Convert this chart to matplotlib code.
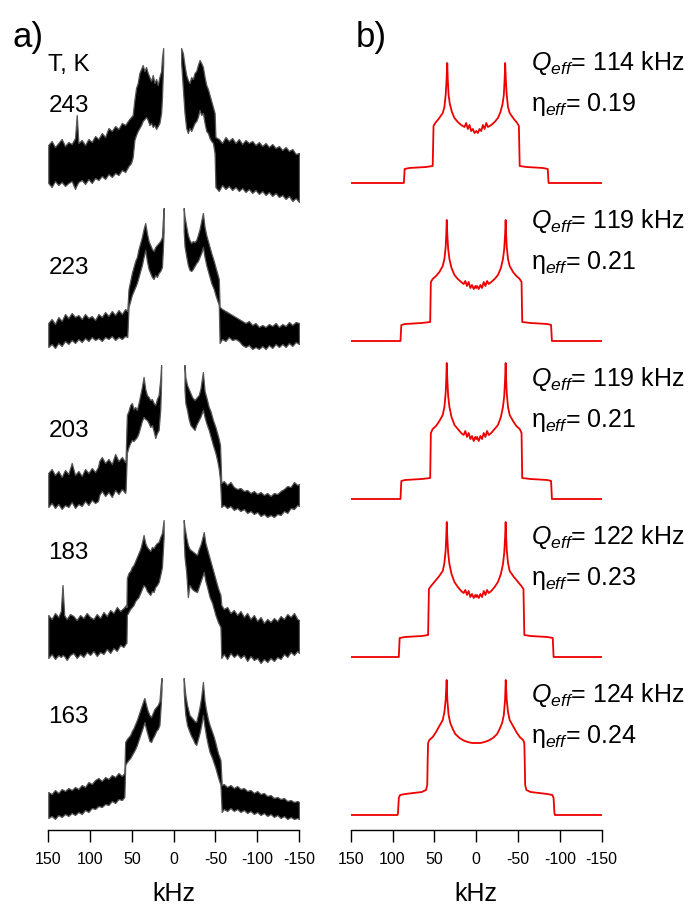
import numpy as np
import matplotlib
matplotlib.use('Agg')
import matplotlib.pyplot as plt

plt.rcParams['font.family'] = ['Liberation Sans', 'DejaVu Sans']
plt.rcParams['mathtext.fontset'] = 'custom'
plt.rcParams['mathtext.rm'] = 'Liberation Sans'
plt.rcParams['mathtext.it'] = 'Liberation Sans:italic'
plt.rcParams['axes.unicode_minus'] = False

# 温度 (K)
temps = ['243', '223', '203', '183', '163']
ticks = [150, 100, 50, 0, -50, -100, -150]
tick_labels = ['150', '100', '50', '0', '-50', '-100', '-150']

# 实验谱: 噪声带 (kHz, 下包络, 上包络)，中心窄峰超出显示范围，分左右两段
exp_left = [
    # 243 K
    [(150, 0, 38), (146, -4, 42), (142, 2, 36), (138, -2, 40), (134, 1, 44), (130, -3, 37),
     (126, 0, 41), (122, 2, 39), (118, -6, 45), (116, -2, 68), (114, 1, 40), (110, 3, 43),
     (106, -1, 38), (102, 4, 44), (98, 0, 41), (94, 5, 47), (90, 3, 44), (86, 7, 50),
     (82, 4, 46), (78, 9, 55), (74, 6, 52), (70, 10, 57), (66, 8, 54), (62, 13, 60),
     (58, 11, 58), (54, 17, 63), (51, 20, 66), (49, 26, 68), (47, 43, 83), (45, 48, 95),
     (43, 52, 100), (41, 55, 110), (39, 58, 114), (37, 62, 118), (35, 64, 112), (33, 66, 116),
     (31, 63, 110), (29, 58, 106), (27, 60, 102), (25, 56, 108), (23, 58, 100), (21, 54, 104),
     (19, 57, 98), (17, 60, 106), (15, 70, 112), (14, 85, 125), (12.5, 120, 135)],
    # 223 K
    [(150, -6, 18), (146, -3, 22), (142, -7, 17), (138, -2, 24), (134, -5, 20), (130, 0, 27),
     (126, -3, 23), (122, 1, 28), (118, -2, 24), (114, 2, 26), (110, -1, 22), (106, 3, 27),
     (102, 0, 23), (98, 4, 25), (94, 1, 21), (90, 3, 27), (86, 0, 24), (82, 4, 29),
     (78, 2, 25), (74, 5, 30), (70, 1, 26), (66, 4, 31), (62, 2, 27), (58, 5, 32),
     (55.5, 4, 30), (54, 34, 52), (52, 40, 60), (50, 46, 68), (48, 50, 74), (46, 54, 80),
     (44, 58, 84), (42, 64, 92), (40, 70, 98), (38, 76, 104), (36, 84, 112), (34, 91, 118),
     (32, 80, 108), (30, 72, 100), (28, 68, 96), (26, 64, 92), (24, 62, 90), (22, 66, 94),
     (20, 64, 96), (18, 68, 98), (16, 70, 100), (14, 74, 104), (13, 90, 120), (12, 110, 133)],
    # 203 K
    [(150, -8, 26), (146, -4, 30), (142, -9, 24), (138, -5, 28), (134, -10, 22), (130, -6, 29),
     (126, -8, 25), (122, -3, 36), (118, -9, 24), (114, -5, 28), (110, -7, 23), (106, -2, 30),
     (102, -6, 26), (98, -1, 31), (94, -4, 27), (90.5, -2, 32), (89, 4, 38), (86, 8, 42),
     (82, 3, 36), (78, 7, 40), (74, 2, 35), (70, 9, 45), (66, 5, 38), (62, 10, 42),
     (58, 6, 37), (57.5, 9, 40), (56, 46, 84), (54, 52, 88), (52, 56, 94), (50, 59, 96),
     (48, 58, 90), (46, 60, 92), (44, 62, 89), (42, 66, 96), (40, 72, 104), (38, 78, 112),
     (36, 82, 122), (34, 80, 110), (32, 79, 104), (30, 76, 102), (28, 72, 99), (26, 74, 100),
     (24, 68, 96), (22, 61, 94), (20, 66, 100), (18, 69, 104), (16, 90, 120), (15, 119, 134)],
    # 183 K
    [(150, -1, 42), (146, 3, 38), (142, -2, 44), (138, 2, 40), (135, 0, 46), (133, 2, 72),
     (131, 1, 42), (128, -3, 38), (124, 2, 43), (120, 4, 41), (116, -1, 37), (112, 3, 42),
     (108, 0, 39), (104, 5, 44), (100, 2, 40), (96, 6, 38), (92, 1, 43), (88, 5, 39),
     (84, 3, 45), (80, 8, 41), (76, 4, 47), (72, 9, 44), (68, 6, 50), (64, 12, 46),
     (60, 10, 49), (57, 14, 52), (56.5, 14, 50), (56, 42, 79), (54, 45, 84), (52, 48, 86),
     (50, 50, 90), (48, 52, 92), (46, 56, 96), (44, 58, 100), (42, 60, 104), (40, 64, 108),
     (38, 68, 114), (36, 72, 122), (34, 70, 114), (32, 66, 110), (30, 64, 108), (28, 62, 106),
     (26, 66, 110), (24, 65, 109), (22, 70, 112), (20, 72, 114), (18, 75, 115), (16, 82, 120),
     (14, 90, 124), (12, 120, 137)],
    # 163 K
    [(150, -3, 23), (146, -1, 21), (142, -4, 25), (138, 0, 22), (134, -2, 26), (130, 1, 24),
     (126, -1, 27), (122, 2, 25), (118, 0, 28), (114, 3, 26), (110, 1, 30), (106, 5, 28),
     (102, 3, 33), (98, 7, 31), (94, 6, 35), (90, 9, 37), (86, 8, 34), (82, 11, 38),
     (78, 10, 36), (74, 14, 40), (70, 12, 38), (66, 16, 42), (62, 15, 39), (59, 18, 42),
     (58, 50, 73), (56, 53, 76), (54, 55, 78), (52, 57, 80), (50, 60, 84), (48, 63, 87),
     (46, 66, 91), (44, 70, 95), (42, 75, 100), (40, 80, 105), (38, 85, 110), (36, 90, 115),
     (35, 93, 117), (33, 86, 110), (31, 80, 104), (29, 74, 100), (27, 73, 98), (25, 77, 102),
     (23, 80, 106), (21, 84, 108), (19, 86, 110), (17, 90, 114), (15.5, 110, 130), (14.5, 125, 137)],
]
exp_right = [
    # 243 K
    [(-9, 120, 135), (-11, 95, 130), (-13, 70, 118), (-15, 55, 108), (-17, 50, 103), (-19, 55, 100),
     (-21, 52, 106), (-23, 56, 104), (-25, 60, 110), (-27, 62, 112), (-29, 66, 118), (-31, 73, 123),
     (-33, 68, 120), (-35, 70, 116), (-37, 60, 106), (-39, 52, 98), (-41, 50, 94), (-43, 45, 88),
     (-45, 42, 82), (-47, 40, 76), (-49, 30, 70), (-50, -4, 46), (-54, -8, 44), (-58, -2, 40),
     (-62, -6, 46), (-66, -3, 42), (-70, -7, 45), (-74, -4, 40), (-78, -8, 44), (-82, -5, 39),
     (-86, -9, 43), (-90, -6, 40), (-94, -10, 42), (-98, -7, 38), (-102, -11, 41), (-106, -8, 37),
     (-110, -12, 40), (-114, -9, 36), (-118, -13, 39), (-122, -10, 35), (-126, -14, 37), (-130, -12, 33),
     (-134, -16, 36), (-138, -13, 32), (-142, -18, 34), (-146, -15, 29), (-150, -19, 30)],
    # 223 K
    [(-12, 110, 133), (-13, 95, 125), (-15, 85, 115), (-17, 76, 106), (-19, 71, 101), (-21, 70, 98),
     (-23, 72, 100), (-25, 75, 99), (-27, 78, 101), (-29, 80, 106), (-31, 84, 112), (-33, 88, 120),
     (-35, 94, 128), (-37, 84, 114), (-39, 76, 106), (-41, 70, 100), (-43, 64, 94), (-45, 58, 88),
     (-48, 52, 80), (-50, 46, 74), (-52, 41, 68), (-54, 36, 62), (-55, -2, 34), (-58, 2, 32),
     (-62, 0, 30), (-66, 4, 28), (-70, 1, 26), (-74, 2, 24), (-78, 0, 22), (-82, -4, 20),
     (-86, -6, 18), (-90, -4, 20), (-94, -8, 16), (-98, -6, 18), (-102, -8, 14), (-106, -5, 16),
     (-110, -8, 14), (-114, -4, 17), (-118, -7, 15), (-122, -3, 18), (-126, -6, 14), (-130, -3, 17),
     (-134, -6, 15), (-138, -2, 19), (-142, -5, 16), (-146, -1, 19), (-150, -3, 18)],
    # 203 K
    [(-13, 109, 134), (-14, 96, 122), (-16, 89, 114), (-18, 80, 110), (-20, 74, 106), (-22, 72, 102),
     (-25, 69, 99), (-27, 74, 101), (-30, 79, 104), (-32, 82, 110), (-35, 89, 127), (-37, 82, 108),
     (-39, 76, 102), (-42, 69, 92), (-44, 63, 88), (-47, 54, 79), (-50, 46, 72), (-52, 39, 66),
     (-54, 30, 60), (-55.5, 19, 54), (-57, -8, 16), (-60, -6, 18), (-64, -9, 14), (-68, -7, 17),
     (-72, -11, 12), (-76, -9, 10), (-80, -12, 11), (-84, -10, 8), (-88, -14, 9), (-92, -12, 6),
     (-96, -15, 8), (-100, -13, 5), (-104, -17, 7), (-108, -15, 4), (-112, -18, 6), (-116, -16, 3),
     (-120, -18, 6), (-124, -15, 5), (-128, -16, 8), (-132, -12, 10), (-136, -14, 13), (-140, -9, 12),
     (-144, -10, 17), (-148, -6, 14), (-150, -7, 15)],
    # 183 K
    [(-12, 120, 137), (-13, 100, 130), (-15, 85, 120), (-17, 60, 112), (-19, 72, 108), (-22, 68, 106),
     (-25, 66, 104), (-28, 65, 102), (-30, 70, 108), (-32, 75, 112), (-34, 80, 118), (-36, 85, 125),
     (-38, 76, 114), (-40, 70, 108), (-43, 60, 99), (-46, 54, 90), (-48, 48, 84), (-50, 42, 78),
     (-53, 35, 69), (-56, 30, 62), (-57, -1, 52), (-60, 3, 48), (-64, -2, 50), (-68, 4, 44),
     (-72, 0, 47), (-76, 3, 42), (-80, -1, 46), (-84, 2, 40), (-88, -4, 44), (-92, 1, 38),
     (-96, -3, 42), (-100, -1, 36), (-104, -6, 40), (-108, -2, 34), (-112, -5, 38), (-116, -1, 35),
     (-120, -4, 39), (-124, 0, 36), (-128, -2, 41), (-132, 3, 38), (-136, 0, 43), (-140, 5, 40),
     (-144, 2, 44), (-148, 6, 38), (-150, 4, 37)],
    # 163 K
    [(-12, 125, 137), (-13, 110, 128), (-14, 100, 120), (-16, 90, 110), (-19, 83, 100), (-21, 79, 98),
     (-23, 76, 96), (-25, 72, 94), (-27, 70, 93), (-29, 76, 100), (-31, 82, 108), (-33, 90, 118),
     (-35, 100, 133), (-37, 88, 114), (-39, 78, 104), (-41, 70, 96), (-43, 63, 90), (-46, 57, 83),
     (-48, 52, 78), (-50, 47, 72), (-53, 38, 62), (-56, 30, 55), (-57.5, 3, 30), (-60, 6, 31),
     (-64, 4, 28), (-68, 7, 30), (-72, 4, 27), (-76, 6, 29), (-80, 3, 26), (-84, 5, 27),
     (-88, 2, 24), (-92, 4, 25), (-96, 1, 22), (-100, 3, 24), (-104, 0, 21), (-108, 2, 22),
     (-112, -1, 19), (-116, 1, 20), (-120, -2, 17), (-124, 0, 18), (-128, -3, 16), (-132, -1, 17),
     (-136, -4, 14), (-140, -2, 15), (-144, -4, 13), (-148, -3, 14), (-150, -4, 13)],
]

# 模拟谱 (kHz, 强度)
sim_x = [
    [150, 86.5, 85.5, 80, 70, 60, 52, 51, 49, 45, 40, 38, 36.5, 35.5, 34.6, 34, 33, 31.5, 29, 26, 22, 18,
     14, 12, 10, 8, 6, 4, 2, 0, -2, -4, -6, -8, -10, -12, -14,
     -18, -22, -26, -29, -31.5, -33, -34, -34.6, -35.5, -36.5, -38, -40, -45, -49, -51, -52, -60, -70, -80, -85.5, -86.5, -150],
    [150, 90.5, 89.5, 85, 75, 65, 55, 54.2, 52, 48, 44, 40, 38, 36.5, 35.8, 35.2, 34.5, 33.5, 32, 29.5, 26, 22, 18,
     15, 13, 11, 9, 7, 5, 3, 1, 0, -1, -3, -5, -7, -9, -11, -13, -15,
     -18, -22, -26, -29.5, -32, -33.5, -34.5, -35.2, -35.8, -36.5, -38, -40, -44, -48, -52, -54.2, -55, -65, -75, -85, -89.5, -90.5, -150],
    [150, 90.5, 89.5, 85, 75, 65, 55, 54.2, 52, 48, 44, 40, 38, 36.5, 35.8, 35.2, 34.5, 33.5, 32, 29.5, 26, 22, 18,
     15, 13, 11, 9, 7, 5, 3, 1, 0, -1, -3, -5, -7, -9, -11, -13, -15,
     -18, -22, -26, -29.5, -32, -33.5, -34.5, -35.2, -35.8, -36.5, -38, -40, -44, -48, -52, -54.2, -55, -65, -75, -85, -89.5, -90.5, -150],
    [150, 92.5, 91.5, 85, 75, 65, 57.5, 56.5, 54, 50, 45, 40, 38, 36.5, 35.8, 35.2, 34.5, 33.5, 32, 29.5, 26, 22, 18,
     15, 13, 11, 9, 7, 5, 3, 1, 0, -1, -3, -5, -7, -9, -11, -13, -15,
     -18, -22, -26, -29.5, -32, -33.5, -34.5, -35.2, -35.8, -36.5, -38, -40, -45, -50, -54, -56.5, -57.5, -65, -75, -85, -91.5, -92.5, -150],
    [150, 94, 93.5, 92.5, 91, 85, 75, 65, 60, 58.5, 58, 57.5, 56, 52, 48, 44, 40, 38, 36.5, 35.3, 34.5, 33, 31, 28, 25, 20, 15, 10, 5,
     0, -5, -10, -15, -20, -25, -28, -31, -33, -34.5, -35.3, -36.5, -38, -40, -44, -48, -52, -56, -57.5, -58, -58.5, -60, -65, -75, -85, -91, -92.5, -93.5, -94, -150],
]
sim_y = [
    [0, 0, 14, 15, 15.5, 16, 17, 57, 60, 64, 70, 76, 88, 102, 120, 104, 88, 79, 71, 65, 61, 58,
     56, 60, 54, 58, 52, 54, 50, 52, 50, 54, 52, 58, 54, 60, 56,
     58, 61, 65, 71, 79, 88, 104, 120, 102, 88, 76, 70, 64, 60, 57, 17, 16, 15.5, 15, 14, 0, 0],
    [0, 0, 16, 17, 17.5, 18, 19, 59, 62, 65, 69, 75, 82, 94, 106, 121, 106, 92, 82, 73, 66, 62, 59,
     57, 60, 55, 59, 53, 56, 52, 55, 53, 55, 52, 56, 53, 59, 55, 60, 57,
     59, 62, 66, 73, 82, 92, 106, 121, 106, 94, 82, 75, 69, 65, 62, 59, 19, 18, 17.5, 17, 16, 0, 0],
    [0, 0, 18, 19, 19.5, 20, 21, 66, 70, 73, 78, 84, 92, 106, 119, 136, 119, 103, 92, 82, 74, 70, 66,
     64, 68, 62, 66, 60, 63, 58, 62, 60, 62, 58, 63, 60, 66, 62, 68, 64,
     66, 70, 74, 82, 92, 103, 119, 136, 119, 106, 92, 84, 78, 73, 70, 66, 21, 20, 19.5, 19, 18, 0, 0],
    [0, 0, 19, 20, 20.5, 21, 22, 68, 71, 75, 80, 86, 94, 107, 120, 135, 119, 104, 93, 83, 75, 70, 66,
     64, 67, 62, 66, 60, 63, 59, 62, 60, 62, 59, 63, 60, 66, 62, 67, 64,
     66, 70, 75, 83, 93, 104, 119, 135, 120, 107, 94, 86, 80, 75, 71, 68, 22, 21, 20.5, 20, 19, 0, 0],
    [0, 0, 2, 17, 20, 21, 22, 23, 25, 30, 55, 72, 75, 78, 83, 89, 95, 103, 115, 135, 115, 100, 92, 86, 81, 77, 74.5, 73, 72,
     72, 72, 73, 74.5, 77, 81, 86, 92, 100, 115, 135, 115, 103, 95, 89, 83, 78, 75, 72, 55, 30, 25, 23, 22, 21, 20, 17, 2, 0, 0],
]

q_labels = ['114', '119', '119', '122', '124']
eta_labels = ['0.19', '0.21', '0.21', '0.23', '0.24']

offsets = [632, 474, 316, 158, 0]
temp_y = [709, 547, 384, 262, 98]

fig = plt.figure(figsize=(6.89, 9.08), dpi=100)
ax1 = fig.add_axes([48.3 / 689, 78 / 908, 250.7 / 689, 790 / 908])
ax2 = fig.add_axes([350.7 / 689, 78 / 908, 251 / 689, 790 / 908])

for i in range(5):
    for seg in (exp_left[i], exp_right[i]):
        d = np.array(seg, dtype=float)
        ax1.fill_between(d[:, 0], d[:, 1] + offsets[i], d[:, 2] + offsets[i],
                         facecolor='black', edgecolor='#555555', lw=0.9)
    ax1.text(150, temp_y[i], temps[i], ha='left', va='center', fontsize=17.5)

    ax2.plot(sim_x[i], np.array(sim_y[i]) + offsets[i], color='#ee0000', lw=1.3)
    ax2.text(-66, offsets[i] + 120, r'$Q_{eff}$= ' + q_labels[i] + ' kHz',
             ha='left', va='center', fontsize=18)
    ax2.text(-66, offsets[i] + 79, 'η$_{eff}$= ' + eta_labels[i],
             ha='left', va='center', fontsize=18)

ax1.text(150, 750, 'T, K', ha='left', va='center', fontsize=17.5)

for ax in (ax1, ax2):
    ax.set_xlim(150, -150)
    ax.set_ylim(-15, 775)
    for s in ('top', 'left', 'right'):
        ax.spines[s].set_visible(False)
    ax.spines['bottom'].set_linewidth(1.0)
    ax.set_yticks([])
    ax.set_xticks(ticks)
    ax.set_xticklabels(tick_labels)
    ax.tick_params(axis='x', direction='out', length=8.5, width=1.0, labelsize=11.5, pad=7)
    ax.set_xlabel('kHz', fontsize=18, labelpad=11)
    ax.patch.set_visible(False)

fig.text(12 / 689, 1 - 37 / 908, 'a)', fontsize=25, ha='left', va='center')
fig.text(356 / 689, 1 - 37 / 908, 'b)', fontsize=25, ha='left', va='center')

fig.savefig('out.png', dpi=100)
